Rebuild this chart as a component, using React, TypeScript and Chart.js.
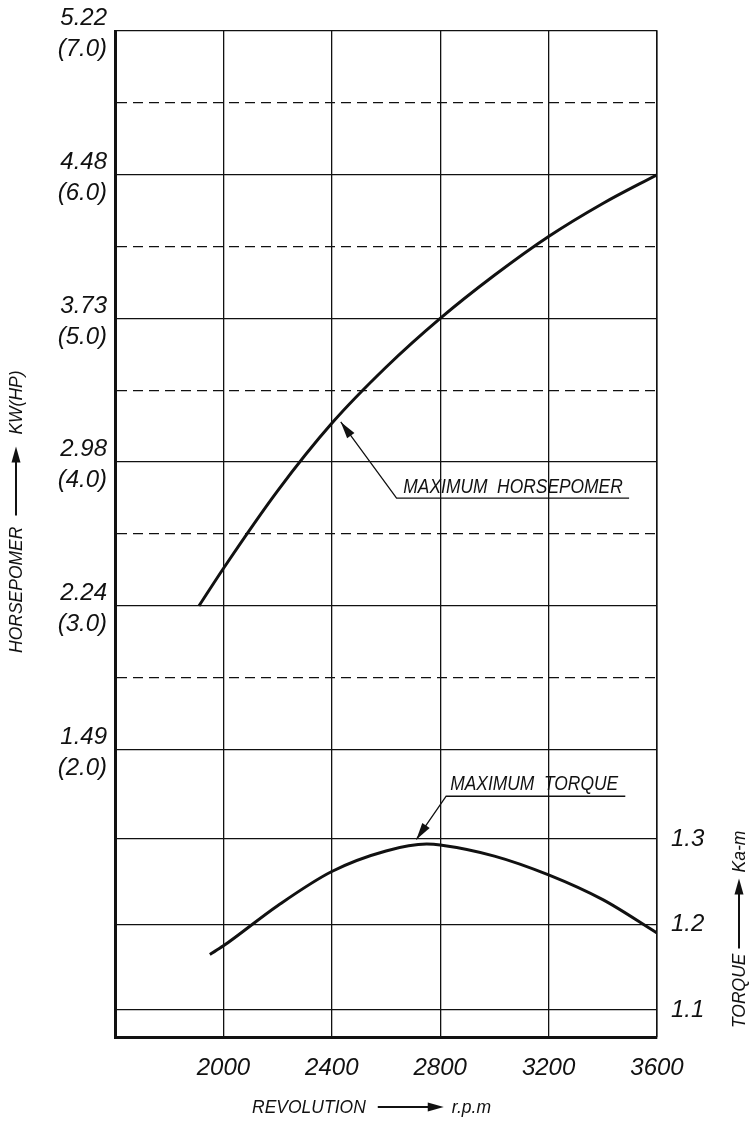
import React, { useEffect, useRef } from 'react';
import { Chart, registerables } from 'chart.js';

Chart.register(...registerables);

// ---- data ----
const rpmTicks = [1600, 2000, 2400, 2800, 3200, 3600];
const hpRpm = [1910, 2000, 2200, 2400, 2600, 2800, 3000, 3200, 3400, 3600];
const hpValues = [3.0, 3.26, 3.8, 4.27, 4.66, 5.0, 5.3, 5.57, 5.8, 6.0];
const torqueRpm = [1950, 2000, 2200, 2400, 2600, 2750, 2800, 3000, 3200, 3400, 3600];
const torqueValues = [1.165, 1.175, 1.222, 1.262, 1.286, 1.294, 1.293, 1.28, 1.258, 1.229, 1.19];
const hpGridValues = [2, 2.5, 3, 3.5, 4, 4.5, 5, 5.5, 6, 6.5, 7];
const hpLabelValues = [2, 3, 4, 5, 6, 7];
const kwTickLabels = ['1.49', '2.24', '2.98', '3.73', '4.48', '5.22'];
const hpTickLabels = ['(2.0)', '(3.0)', '(4.0)', '(5.0)', '(6.0)', '(7.0)'];
const torqueTicks = [1.1, 1.2, 1.3];
const torqueTickLabels = ['1.1', '1.2', '1.3'];

const FONT = '"Liberation Sans", Arial, sans-serif';
const INK = '#111';

function arrowHead(ctx: CanvasRenderingContext2D, x1: number, y1: number, x2: number, y2: number, len: number, half: number) {
  const a = Math.atan2(y2 - y1, x2 - x1);
  const bx = x2 - len * Math.cos(a);
  const by = y2 - len * Math.sin(a);
  ctx.beginPath();
  ctx.moveTo(x2, y2);
  ctx.lineTo(bx + half * Math.sin(a), by - half * Math.cos(a));
  ctx.lineTo(bx - half * Math.sin(a), by + half * Math.cos(a));
  ctx.closePath();
  ctx.fill();
}

function drawTitle(
  ctx: CanvasRenderingContext2D, x: number, y: number, rot: number,
  a: string, gap1: number, arrowLen: number, gap2: number, b: string
) {
  ctx.save();
  ctx.translate(x, y);
  ctx.rotate(rot);
  ctx.font = `italic 17.5px ${FONT}`;
  ctx.fillStyle = INK;
  ctx.strokeStyle = INK;
  ctx.textBaseline = 'middle';
  ctx.textAlign = 'left';
  const wa = ctx.measureText(a).width;
  ctx.fillText(a, 0, 0);
  const ax = wa + gap1;
  ctx.lineWidth = 2;
  ctx.beginPath();
  ctx.moveTo(ax, -1);
  ctx.lineTo(ax + arrowLen - 10, -1);
  ctx.stroke();
  arrowHead(ctx, ax, -1, ax + arrowLen, -1, 16, 4.5);
  ctx.fillText(b, ax + arrowLen + gap2, 0);
  ctx.restore();
}

function drawCallout(
  ctx: CanvasRenderingContext2D, text: string,
  tip: { x: number; y: number }, elbow: { x: number; y: number },
  lineEndX: number, textX: number, textY: number
) {
  ctx.save();
  ctx.strokeStyle = INK;
  ctx.fillStyle = INK;
  ctx.lineWidth = 1.3;
  ctx.beginPath();
  ctx.moveTo(lineEndX, elbow.y);
  ctx.lineTo(elbow.x, elbow.y);
  ctx.lineTo(tip.x, tip.y);
  ctx.stroke();
  arrowHead(ctx, elbow.x, elbow.y, tip.x, tip.y, 17, 4.5);
  ctx.font = `italic 20px ${FONT}`;
  ctx.textBaseline = 'middle';
  ctx.textAlign = 'left';
  ctx.translate(textX, textY);
  ctx.scale(0.87, 1);
  ctx.fillText(text, 0, 0);
  ctx.restore();
}

const overlayPlugin = {
  id: 'overlay',
  afterDraw(chart: any) {
    const ctx: CanvasRenderingContext2D = chart.ctx;
    const xs = chart.scales.x;
    const ys = chart.scales.y;
    const ts = chart.scales.y1;
    // Maximum horsepower callout
    drawCallout(
      ctx, 'MAXIMUM  HORSEPOMER',
      { x: xs.getPixelForValue(2433), y: ys.getPixelForValue(4.28) },
      { x: xs.getPixelForValue(2639), y: ys.getPixelForValue(3.75) },
      xs.getPixelForValue(3497),
      xs.getPixelForValue(2664), ys.getPixelForValue(3.827)
    );
    // Maximum torque callout
    drawCallout(
      ctx, 'MAXIMUM  TORQUE',
      { x: xs.getPixelForValue(2712), y: ts.getPixelForValue(1.2994) },
      { x: xs.getPixelForValue(2822), y: ts.getPixelForValue(1.35) },
      xs.getPixelForValue(3483),
      xs.getPixelForValue(2837), ts.getPixelForValue(1.3637)
    );
    // axis titles
    drawTitle(ctx, 17, 653, -Math.PI / 2, 'HORSEPOMER', 11, 69, 12, 'KW(HP)');
    drawTitle(ctx, 740, 1028, -Math.PI / 2, 'TORQUE', 5, 70, 6, 'Ka-m');
    drawTitle(ctx, 252, 1108, 0, 'REVOLUTION', 12, 66, 8, 'r.p.m');
  },
};

export default function App() {
  const canvasRef = useRef<HTMLCanvasElement | null>(null);

  useEffect(() => {
    if (!canvasRef.current) return;
    const tickFont = { family: FONT, size: 24, style: 'italic' as const, lineHeight: 1.3 };
    const chart = new Chart(canvasRef.current, {
      type: 'line',
      data: {
        datasets: [
          {
            label: 'Maximum horsepower',
            data: hpRpm.map((r, i) => ({ x: r, y: hpValues[i] })),
            yAxisID: 'y',
            borderColor: INK,
            borderWidth: 3,
            pointRadius: 0,
            cubicInterpolationMode: 'monotone',
            fill: false,
          },
          {
            label: 'Maximum torque',
            data: torqueRpm.map((r, i) => ({ x: r, y: torqueValues[i] })),
            yAxisID: 'y1',
            borderColor: INK,
            borderWidth: 3,
            pointRadius: 0,
            cubicInterpolationMode: 'monotone',
            fill: false,
          },
        ],
      },
      options: {
        animation: false,
        responsive: true,
        maintainAspectRatio: false,
        events: [],
        layout: { padding: { top: 31, left: 0, right: 0, bottom: 0 } },
        plugins: { legend: { display: false }, tooltip: { enabled: false } },
        scales: {
          x: {
            type: 'linear',
            min: 1600,
            max: 3600,
            afterBuildTicks: (s: any) => { s.ticks = rpmTicks.map((v) => ({ value: v })); },
            afterFit: (s: any) => { s.height = 89; s.paddingLeft = 0; s.paddingRight = 0; },
            ticks: {
              autoSkip: false,
              maxRotation: 0,
              padding: 16,
              color: INK,
              font: tickFont,
              callback: (v: any) => (v === rpmTicks[0] ? '' : String(v)),
            },
            grid: {
              drawTicks: false,
              color: (c: any) => (c.tick && c.tick.value === rpmTicks[0] ? 'rgba(0,0,0,0)' : INK),
              lineWidth: 1.3,
            },
            border: { display: true, color: INK, width: 3 },
          },
          y: {
            type: 'linear',
            position: 'left',
            min: 0,
            max: 7,
            afterBuildTicks: (s: any) => { s.ticks = hpGridValues.map((v) => ({ value: v })); },
            afterFit: (s: any) => { s.width = 115; s.paddingTop = 0; s.paddingBottom = 0; },
            ticks: {
              autoSkip: false,
              padding: 8,
              labelOffset: 3,
              color: INK,
              font: tickFont,
              callback: (v: any) => {
                const i = hpLabelValues.indexOf(v);
                return i >= 0 ? [kwTickLabels[i], hpTickLabels[i]] : '';
              },
            },
            grid: {
              drawTicks: false,
              color: INK,
              lineWidth: 1.3,
            },
            border: {
              display: true,
              color: INK,
              width: 3,
              dash: (c: any) => (c.tick && c.tick.value % 1 !== 0 ? [10, 6] : []),
            },
          },
          y1: {
            type: 'linear',
            position: 'right',
            min: 1.0684,
            max: 2.245,
            afterBuildTicks: (s: any) => { s.ticks = torqueTicks.map((v) => ({ value: v })); },
            afterFit: (s: any) => { s.width = 93; s.paddingTop = 0; s.paddingBottom = 0; },
            ticks: {
              autoSkip: false,
              padding: 14,
              color: INK,
              font: tickFont,
              callback: (v: any) => {
                const i = torqueTicks.findIndex((t) => Math.abs(t - v) < 1e-6);
                return i >= 0 ? torqueTickLabels[i] : '';
              },
            },
            grid: {
              drawTicks: false,
              drawOnChartArea: true,
              color: INK,
              lineWidth: 1.3,
            },
            border: { display: true, color: INK, width: 1.5 },
          },
        },
      },
      plugins: [overlayPlugin],
    } as any);
    return () => chart.destroy();
  }, []);

  return (
    <div style={{ position: 'fixed', left: 0, top: 0, width: 750, height: 1126, background: '#fff' }}>
      <canvas ref={canvasRef} />
    </div>
  );
}
